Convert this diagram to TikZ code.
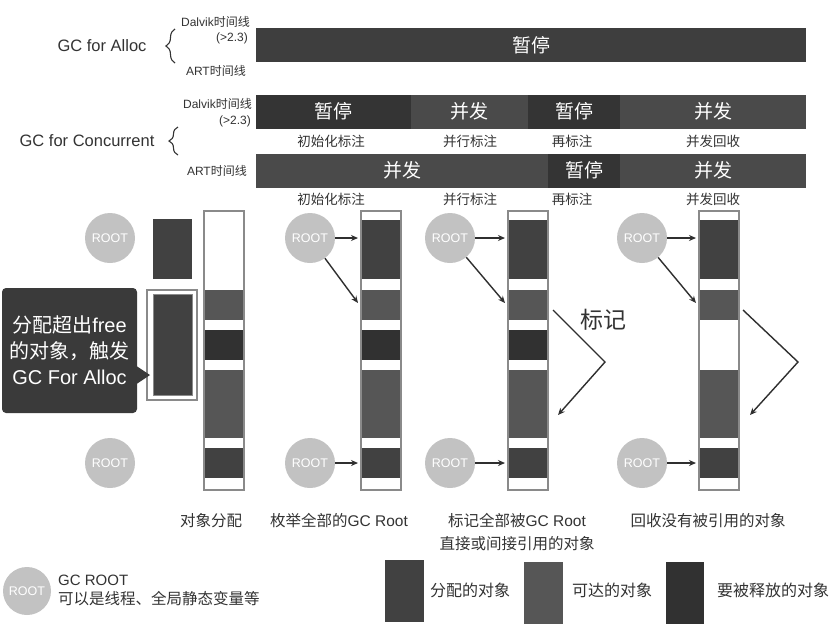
\documentclass[tikz,border=0pt]{standalone}
\usepackage{fontspec}
\setmainfont{Liberation Sans}
\newfontfamily\cjk{Noto Sans CJK SC}
\usetikzlibrary{arrows.meta,decorations.pathreplacing}
\definecolor{allocc}{HTML}{414141}
\definecolor{reachc}{HTML}{565656}
\definecolor{freec}{HTML}{313131}
\definecolor{pausec}{HTML}{343434}
\definecolor{concc}{HTML}{4A4A4A}
\definecolor{barc}{HTML}{3E3E3E}
\definecolor{rootc}{HTML}{C2C2C2}
\definecolor{edgec}{HTML}{8A8A8A}
\definecolor{inkc}{HTML}{2F2F2F}
\definecolor{txtc}{HTML}{333333}
\definecolor{bubc}{HTML}{3A3A3A}
\begin{document}
\begin{tikzpicture}[x=1pt,y=-1pt,
  barseg/.style={inner sep=0pt,outer sep=0pt,minimum height=34pt,text=white,font=\fontsize{19}{19}\selectfont\cjk},
  barlab/.style={inner sep=0pt,text=txtc,font=\fontsize{13.5}{13.5}\selectfont\cjk},
  tline/.style={inner sep=0pt,anchor=east,text=txtc,font=\fontsize{12}{12}\selectfont},
  bigtxt/.style={inner sep=0pt,text=txtc,font=\fontsize{16.5}{16.5}\selectfont},
  rootnode/.style={circle,fill=rootc,minimum size=50pt,inner sep=0pt,text=white,font=\fontsize{12.5}{12.5}\selectfont},
  colframe/.style={draw=edgec,line width=1.2pt,minimum width=40pt,minimum height=279pt,inner sep=0pt},
  arrw/.style={draw=inkc,line width=1.4pt,-{Stealth[length=7pt,width=6pt]}},
  captxt/.style={inner sep=0pt,text=txtc,font=\fontsize{15.5}{23}\selectfont\cjk},
  brc/.style={draw=txtc,line width=1.1pt,decorate,decoration={brace,amplitude=9pt}},
  lgbox/.style={inner sep=0pt,minimum width=39pt,minimum height=62pt},
  lgtxt/.style={inner sep=0pt,text=txtc,font=\fontsize{16}{16}\selectfont\cjk}]
\useasboundingbox[fill=white] (0,0) rectangle (838,630);

% ---------- GC for Alloc ----------
\node[bigtxt] (galloc) at (102,46) {GC for Alloc};
\draw[brc] (175,63) -- (175,29);
\node[tline] (ad1) at (250,22) {Dalvik{\cjk 时间线}};
\node[tline] (ad2) at (248,38) {(>2.3)};
\node[tline] (aart) at (246,71) {ART{\cjk 时间线}};
\node[barseg,fill=barc,minimum width=550pt] (abar) at (531,45) {暂停};

% ---------- GC for Concurrent ----------
\node[bigtxt] (gconc) at (87,141) {GC for Concurrent};
\draw[brc] (178,155) -- (178,127);
\node[tline] (cd1) at (252,104) {Dalvik{\cjk 时间线}};
\node[tline] (cd2) at (251,121) {(>2.3)};
\node[tline] (cart) at (247,171) {ART{\cjk 时间线}};

\node[barseg,fill=pausec,minimum width=155pt] (d1) at (333.5,111.5) {暂停};
\node[barseg,fill=concc,minimum width=117pt] (d2) at (469.5,111.5) {并发};
\node[barseg,fill=pausec,minimum width=92pt] (d3) at (574,111.5) {暂停};
\node[barseg,fill=concc,minimum width=186pt] (d4) at (713,111.5) {并发};

\node[barlab] (dl1) at (331,141) {初始化标注};
\node[barlab] (dl2) at (470,141) {并行标注};
\node[barlab] (dl3) at (572,141) {再标注};
\node[barlab] (dl4) at (713,141) {并发回收};

\node[barseg,fill=concc,minimum width=292pt] (t1) at (402,170.5) {并发};
\node[barseg,fill=pausec,minimum width=72pt] (t2) at (584,170.5) {暂停};
\node[barseg,fill=concc,minimum width=186pt] (t3) at (713,170.5) {并发};

\node[barlab] (tl1) at (331,199) {初始化标注};
\node[barlab] (tl2) at (470,199) {并行标注};
\node[barlab] (tl3) at (572,199) {再标注};
\node[barlab] (tl4) at (713,199) {并发回收};

% ---------- heap columns ----------
\foreach \L in {204,361,508,699}{
  \fill[reachc] (\L,290) rectangle ++(40,30);
  \fill[reachc] (\L,370) rectangle ++(40,68);
  \fill[allocc] (\L,448) rectangle ++(40,30);
}
\foreach \L in {204,361,508}{ \fill[freec] (\L,330) rectangle ++(40,30); }
\foreach \L in {361,508,699}{ \fill[allocc] (\L,220) rectangle ++(40,59); }
\foreach \L/\n in {204/1,361/2,508/3,699/4}{
  \node[colframe] (col\n) at (\L+20,350.5) {};
}

% new objects
\node[inner sep=0pt,fill=allocc,minimum width=39pt,minimum height=60pt] (sblk) at (172.5,249) {};
\node[draw=edgec,line width=1.2pt,inner sep=0pt,minimum width=50pt,minimum height=110pt] (obox) at (172,345) {};
\node[draw=edgec,line width=0.8pt,fill=allocc,inner sep=0pt,minimum width=39pt,minimum height=101pt] (ibox) at (172.5,345) {};

% speech bubble
\node[fill=bubc,rounded corners=4pt,minimum width=135pt,minimum height=125pt,inner sep=0pt,
      text=white,align=center,font=\fontsize{20}{26}\selectfont] (bub) at (69.5,350.5)
  {{\cjk 分配超出}free\\{\cjk 的对象，触发}\\GC For Alloc};
\coordinate (ptip) at (150,375);
\fill[bubc] (135,365) -- (ptip) -- (135,385) -- cycle;

% ROOT circles
\node[rootnode] (r1t) at (110,238) {ROOT};
\node[rootnode] (r1b) at (110,463) {ROOT};
\node[rootnode] (r2t) at (310,238) {ROOT};
\node[rootnode] (r2b) at (310,463) {ROOT};
\node[rootnode] (r3t) at (450,238) {ROOT};
\node[rootnode] (r3b) at (450,463) {ROOT};
\node[rootnode] (r4t) at (642,238) {ROOT};
\node[rootnode] (r4b) at (642,463) {ROOT};

% arrow targets
\coordinate (a2t) at (358,238); \coordinate (a2d) at (358,303); \coordinate (a2b) at (358,463);
\coordinate (a3t) at (505,238); \coordinate (a3d) at (505,303); \coordinate (a3b) at (505,463);
\coordinate (a4t) at (696,238); \coordinate (a4d) at (696,303); \coordinate (a4b) at (696,463);
\foreach \n in {2,3,4}{
  \draw[arrw] (r\n t) -- (a\n t);
  \draw[arrw] (r\n t) -- (a\n d);
  \draw[arrw] (r\n b) -- (a\n b);
}

% marking zigzags
\coordinate (m3s) at (553,310); \coordinate (m3v) at (605,362); \coordinate (m3e) at (558,415);
\coordinate (m4s) at (743,310); \coordinate (m4v) at (798,362); \coordinate (m4e) at (750,415);
\draw[arrw] (m3s) -- (m3v) -- (m3e);
\draw[arrw] (m4s) -- (m4v) -- (m4e);
\node[inner sep=0pt,text=txtc,font=\fontsize{23}{23}\selectfont\cjk] (mark) at (603,320) {标记};

% captions
\node[captxt] (cap1) at (211,521) {对象分配};
\node[captxt] (cap2) at (339,521) {枚举全部的{\rmfamily GC Root}};
\node[captxt,align=center] (cap3) at (517,532) {标记全部被{\rmfamily GC Root}\\直接或间接引用的对象};
\node[captxt] (cap4) at (708,521) {回收没有被引用的对象};

% legend
\node[rootnode,minimum size=48pt] (rl) at (27,591) {ROOT};
\node[inner sep=0pt,anchor=west,text=txtc,font=\fontsize{15}{15}\selectfont] (lgr1) at (58,580) {GC ROOT};
\node[inner sep=0pt,anchor=west,text=txtc,font=\fontsize{15.5}{15.5}\selectfont\cjk] (lgr2) at (58,599) {可以是线程、全局静态变量等};

\node[lgbox,fill=allocc] (lg1) at (404.5,591) {};
\node[lgtxt] (lt1) at (470,590) {分配的对象};
\node[lgbox,fill=reachc] (lg2) at (543.5,592.5) {};
\node[lgtxt] (lt2) at (612,590) {可达的对象};
\node[lgbox,fill=freec,minimum width=38pt] (lg3) at (685,592.5) {};
\node[lgtxt] (lt3) at (773,590) {要被释放的对象};
\end{tikzpicture}
\end{document}
